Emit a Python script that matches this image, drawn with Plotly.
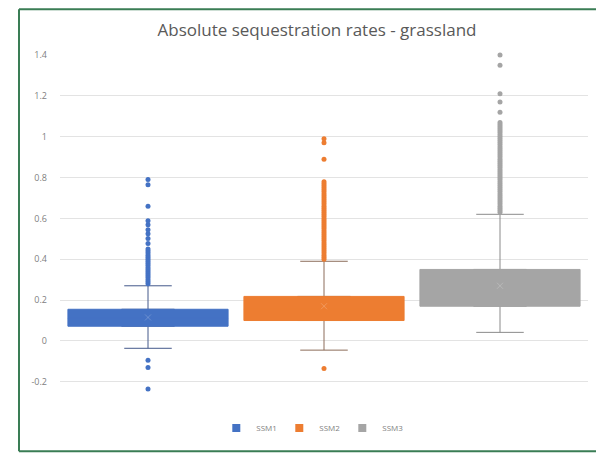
import plotly.graph_objects as go

categories = ["SSM1", "SSM2", "SSM3"]
colors = ["#4472C4", "#ED7D31", "#A5A5A5"]
whisker_colors = ["#44588a", "#8c6d5a", "#8a8a8a"]

q1 = [0.072, 0.100, 0.170]
median = [0.110, 0.155, 0.230]
q3 = [0.155, 0.218, 0.350]
lower_fence = [-0.036, -0.045, 0.042]
upper_fence = [0.270, 0.390, 0.620]
means = [0.115, 0.170, 0.270]

outliers_ssm1 = [0.28, 0.29, 0.30, 0.31, 0.32, 0.33, 0.34, 0.35, 0.36, 0.37, 0.38,
                 0.39, 0.40, 0.41, 0.42, 0.43, 0.44, 0.45, 0.477, 0.501, 0.525,
                 0.545, 0.569, 0.589, 0.66, 0.765, 0.79,
                 -0.094, -0.13, -0.235]
outliers_ssm2 = [0.40, 0.41, 0.42, 0.43, 0.44, 0.45, 0.46, 0.47, 0.48, 0.49, 0.50,
                 0.51, 0.52, 0.53, 0.54, 0.55, 0.56, 0.57, 0.58, 0.59, 0.60, 0.61,
                 0.62, 0.63, 0.64, 0.65, 0.66, 0.67, 0.68, 0.69, 0.70, 0.71, 0.72,
                 0.73, 0.74, 0.75, 0.76, 0.77, 0.78, 0.89, 0.97, 0.99, -0.135]
outliers_ssm3 = [0.63, 0.64, 0.65, 0.66, 0.67, 0.68, 0.69, 0.70, 0.71, 0.72, 0.73,
                 0.74, 0.75, 0.76, 0.77, 0.78, 0.79, 0.80, 0.81, 0.82, 0.83, 0.84,
                 0.85, 0.86, 0.87, 0.88, 0.89, 0.90, 0.91, 0.92, 0.93, 0.94, 0.95,
                 0.96, 0.97, 0.98, 0.99, 1.00, 1.01, 1.02, 1.03, 1.04, 1.05, 1.06,
                 1.07, 1.12, 1.17, 1.21, 1.35, 1.40]
outliers = [outliers_ssm1, outliers_ssm2, outliers_ssm3]

tick_vals = [-0.2, 0, 0.2, 0.4, 0.6, 0.8, 1, 1.2, 1.4]
tick_text = ["-0.2", "0", "0.2", "0.4", "0.6", "0.8", "1", "1.2", "1.4"]

title_text = "Absolute sequestration rates - grassland"

W, H = 600, 453
ML, MR, MT, MB = 60, 12, 55, 60
Y_RANGE = [-0.25, 1.4]

fig = go.Figure()

# whiskers (drawn first, underneath)
for i, cat in enumerate(categories):
    fig.add_trace(go.Box(
        x=[cat], q1=[q1[i]], median=[median[i]], q3=[q3[i]],
        lowerfence=[lower_fence[i]], upperfence=[upper_fence[i]],
        width=0.3, whiskerwidth=0.9, fillcolor="rgba(0,0,0,0)",
        line=dict(color=whisker_colors[i], width=1),
        showlegend=False, hoverinfo="skip", boxpoints=False,
    ))

# outlier points
for i, cat in enumerate(categories):
    fig.add_trace(go.Scatter(
        x=[cat] * len(outliers[i]), y=outliers[i], mode="markers",
        marker=dict(color=colors[i], size=5),
        showlegend=False, cliponaxis=False, hoverinfo="skip",
    ))

# boxes
for i, cat in enumerate(categories):
    fig.add_trace(go.Box(
        x=[cat], q1=[q1[i]], median=[median[i]], q3=[q3[i]],
        lowerfence=[q1[i]], upperfence=[q3[i]],
        width=0.91, whiskerwidth=0, fillcolor=colors[i],
        line=dict(color=colors[i], width=1),
        name=cat, showlegend=False, boxpoints=False, legendgroup=cat,
    ))

# legend entries (square swatches)
for i, cat in enumerate(categories):
    fig.add_trace(go.Scatter(
        x=[None], y=[None], mode="markers", name=cat, legendgroup=cat,
        marker=dict(symbol="square", size=8, color=colors[i]),
        showlegend=True,
    ))

# faint mean markers
fig.add_trace(go.Scatter(
    x=categories, y=means, mode="markers",
    marker=dict(symbol="x-thin", size=6, line=dict(color="rgba(255,255,255,0.2)", width=1)),
    showlegend=False, hoverinfo="skip",
))

ph = H - MT - MB
pw = W - ML - MR
fx0 = (19 - ML) / pw
fx1 = (596 - ML) / pw
fy0 = ((H - MB) - 452.5) / ph
fy1 = ((H - MB) - 9) / ph
frame_line = dict(color="#3a7d55", width=2)
fig.add_shape(type="line", xref="paper", yref="paper", x0=fx0, x1=fx0, y0=fy0, y1=fy1,
              line=frame_line, layer="below")
fig.add_shape(type="line", xref="paper", yref="paper", x0=fx0, x1=fx1, y0=fy1, y1=fy1,
              line=frame_line, layer="below")
fig.add_shape(type="line", xref="paper", yref="paper", x0=fx0, x1=fx1, y0=fy0, y1=fy0,
              line=frame_line, layer="below")

fig.update_layout(
    width=W, height=H,
    margin=dict(l=ML, r=MR, t=MT, b=MB),
    paper_bgcolor="white", plot_bgcolor="white",
    boxmode="overlay",
    title=dict(text=title_text, x=317 / W, xanchor="center", y=1 - 30 / H, yanchor="middle",
               font=dict(family="Open Sans", size=17, color="#595959")),
    font=dict(family="Open Sans", color="#808080"),
    xaxis=dict(showticklabels=False, showgrid=False, zeroline=False, showline=False,
               range=[-0.5, 2.5], fixedrange=True),
    yaxis=dict(range=Y_RANGE, tickvals=tick_vals, ticktext=tick_text,
               showgrid=True, gridcolor="#e3e3e3", gridwidth=1, zeroline=False,
               showline=False, ticks="", ticklabelstandoff=12,
               tickfont=dict(size=9, color="#808080")),
    legend=dict(orientation="h", x=0.475, xanchor="center",
                y=((H - MB) - 428) / ph, yanchor="middle",
                font=dict(size=8, color="#808080"), itemwidth=30,
                entrywidth=18, entrywidthmode="pixels"),
)

fig.write_html("out.html", config={"displayModeBar": False},
               post_script="document.body.style.margin='0';document.documentElement.style.overflow='hidden';")
